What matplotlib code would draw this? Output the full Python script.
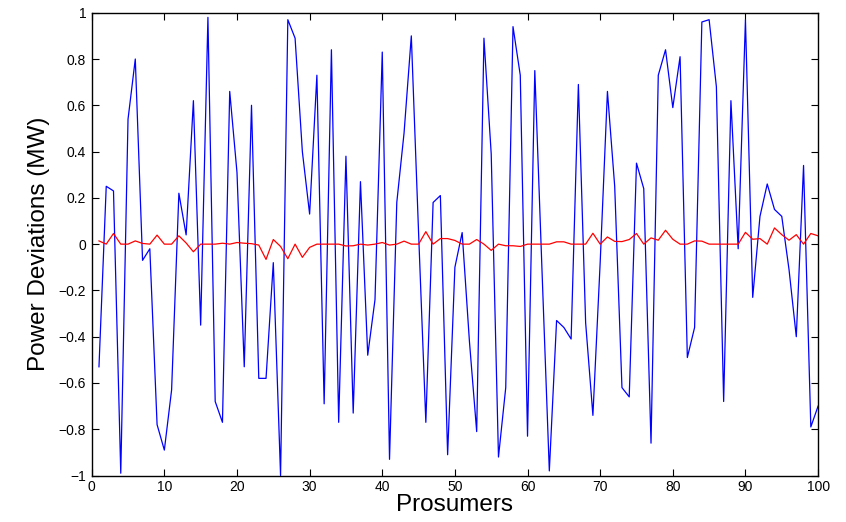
import matplotlib
matplotlib.use("Agg")
import matplotlib.pyplot as plt

# prosumer index 1..100
prosumers = list(range(1, 101))

# blue: deviations without coordination (MW)
dev_uncoord = [
    -0.53, 0.25, 0.23, -0.99, 0.54, 0.80, -0.07, -0.02, -0.78, -0.89,
    -0.63, 0.22, 0.04, 0.62, -0.35, 0.98, -0.68, -0.77, 0.66, 0.31,
    -0.53, 0.60, -0.58, -0.58, -0.08, -1.00, 0.97, 0.89, 0.40, 0.13,
    0.73, -0.69, 0.84, -0.77, 0.38, -0.73, 0.27, -0.48, -0.24, 0.83,
    -0.93, 0.18, 0.48, 0.90, 0.05, -0.77, 0.18, 0.21, -0.91, -0.10,
    0.05, -0.42, -0.81, 0.89, 0.39, -0.92, -0.62, 0.94, 0.73, -0.83,
    0.75, -0.12, -0.98, -0.33, -0.36, -0.41, 0.69, -0.34, -0.74, -0.08,
    0.66, 0.25, -0.62, -0.66, 0.35, 0.24, -0.86, 0.73, 0.84, 0.59,
    0.81, -0.49, -0.36, 0.96, 0.97, 0.68, -0.68, 0.62, -0.02, 0.97,
    -0.23, 0.12, 0.26, 0.15, 0.12, -0.11, -0.40, 0.34, -0.79, -0.70,
]

# red: deviations with coordination (MW)
dev_coord = [
    0.014, 0.0, 0.046, 0.0, 0.0, 0.014, 0.003, 0.0, 0.039, 0.0,
    0.0, 0.036, 0.005, -0.033, 0.0, 0.0, 0.0, 0.004, 0.0, 0.007,
    0.004, 0.002, -0.004, -0.066, 0.02, -0.01, -0.063, 0.0, -0.057, -0.014,
    0.0, 0.0, 0.0, 0.0, -0.008, -0.007, 0.0, -0.004, 0.0, 0.007,
    -0.004, 0.0, 0.013, 0.0, 0.0, 0.054, 0.0, 0.024, 0.024, 0.016,
    0.0, 0.0, 0.02, 0.0, -0.027, 0.0, -0.007, -0.007, -0.01, 0.0,
    0.0, 0.0, 0.0, 0.01, 0.01, 0.0, 0.0, 0.0, 0.047, 0.0,
    0.031, 0.012, 0.011, 0.02, 0.046, 0.0, 0.027, 0.017, 0.06, 0.021,
    0.0, 0.0, 0.014, 0.013, 0.0, 0.0, 0.0, 0.0, 0.0, 0.051,
    0.021, 0.024, 0.0, 0.07, 0.041, 0.017, 0.041, 0.0, 0.046, 0.036,
]

xticks = list(range(0, 101, 10))
yticks = [-1, -0.8, -0.6, -0.4, -0.2, 0, 0.2, 0.4, 0.6, 0.8, 1]
ytick_labels = ["\u22121", "\u22120.8", "\u22120.6", "\u22120.4", "\u22120.2",
                "0", "0.2", "0.4", "0.6", "0.8", "1"]

plt.rcParams["font.family"] = ["Liberation Sans", "DejaVu Sans"]

fig = plt.figure(figsize=(8.46, 5.22), dpi=100)
ax = fig.add_axes([0.1084, 0.089, 0.8586, 0.8866])

ax.plot(prosumers, dev_uncoord, color="#0000ff", linewidth=0.9)
ax.plot(prosumers, dev_coord, color="#ff0000", linewidth=0.9)

ax.set_xlim(0, 100)
ax.set_ylim(-1, 1)
ax.set_xticks(xticks)
ax.set_yticks(yticks)
ax.set_yticklabels(ytick_labels)
ax.tick_params(direction="in", top=True, right=True, length=5, width=0.8,
               labelsize=10, pad=3)
ax.tick_params(axis="y", pad=4)
for s in ax.spines.values():
    s.set_linewidth(1.0)

ax.set_xlabel("Prosumers", fontsize=17.5, labelpad=0)
ax.set_ylabel("Power Deviations (MW)", fontsize=17.5, labelpad=6)

fig.savefig("out.png", dpi=100)
